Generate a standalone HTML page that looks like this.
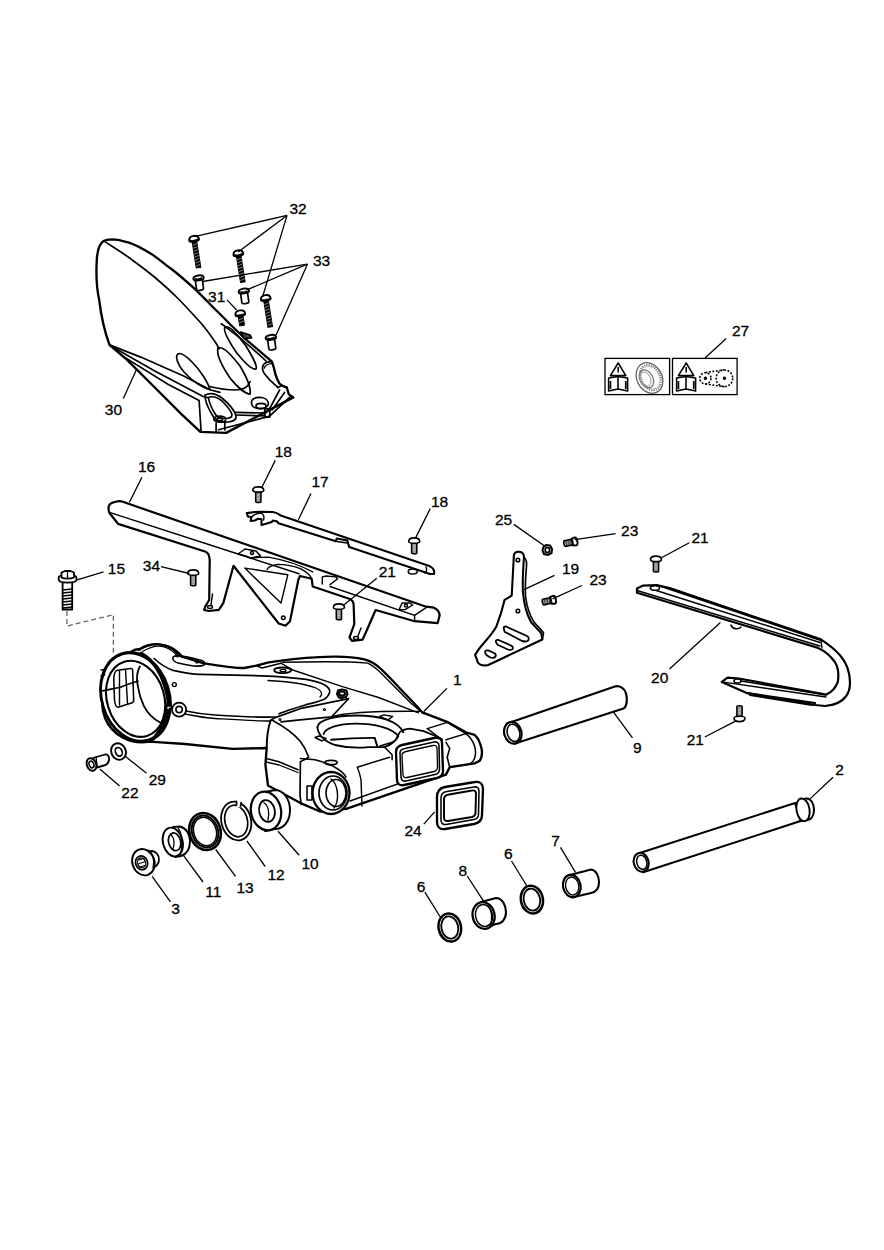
<!DOCTYPE html>
<html><head><meta charset="utf-8"><style>
html,body{margin:0;padding:0;background:#fff;width:884px;height:1250px;overflow:hidden}
svg{display:block}
</style></head><body>
<svg width="884" height="1250" viewBox="0 0 884 1250">
<rect width="884" height="1250" fill="#fff"/>
<!-- fender 30 -->
<g fill="#fff" stroke="#000" stroke-width="2.34" stroke-linejoin="round" stroke-linecap="round">
<path d="M103.5,241 C99,244 97,252 96.7,262 C96,275 97,290 99.2,300 C101,315 104,330 109.5,344.9 L127.1,359.9 L154.3,387 L181.4,414.2 L200.4,431.8 L226.1,432.9 L293.3,397.4 L288.9,394.5 L286.8,387.5 C283,386.5 281,385 279.4,383.5 C277,379 276,376 275.3,374 C274.5,370 273.5,366 271.9,361.7 L245,338.6 C238,332 234,328 230.8,325 C224,318 219,313 213.8,308 C206,300 199,293 193.4,287.7 C186,281 178,274 171.4,269 C164,264 158,258 151,253.8 C143,249 136,245 128.9,242.7 C122,240.5 116,239.3 112,239.3 C108,239.5 105.5,240 103.5,241 Z"/>
</g>
<g fill="none" stroke="#000" stroke-width="1.69" stroke-linejoin="round" stroke-linecap="round">
<path d="M105.2,241.9 C113,247 121,252 128.9,257.5 C137,263.5 146,270 154.4,277 C162,283.5 170,290.5 176.5,297 C184,304.5 190,311 196.8,318.5 C203,325 209,333 213.8,340 C216,343 218,346 219,349"/>
<path d="M221.3,323.8 C226,327 232,332 238.2,336.5 C248,345 258,353 266,361"/>
<path d="M109.5,344.9 L140.7,357.1 L184.2,376.2 L210,389.7 L220,392.4"/>
<path d="M113.6,347.6 L154.3,370.7 L203.2,396.5 L208.6,397.9"/>
<path d="M124.4,357.1 L167.9,384.3 L199.1,400.6 L201.1,431.8"/>
<path d="M178,354 C175,356 177,364 184,372 C192,381 203,388 210,389.7 C208,382 200,370 192,362 C186,356 181,352 178,354 Z"/>
<path d="M218,348 C216,354 222,366 230,378 C238,388 246,394 250.1,394.2 C251,388 246,376 240,366 C232,356 224,346 218,348 Z"/>
<path d="M209.4,386.5 C220,389 228,390 234.8,390 C242,390 248,388 250.1,381.5"/>
<path d="M225,327 C223,330 228,340 236,352 C244,362 252,370 256,369 C258,366 252,356 246,346 C238,336 230,325 225,327 Z"/>
<path d="M205,395 C210,392.5 216,393.5 222,398 C229,404 235,411 236,416 C236.5,420 233,421.5 228,422 C222,422.5 216,421 213.5,417 C209,410 205,402 205,395 Z"/>
<path d="M208.5,397.5 C212,396 217,397 222,401 C227,406 231,411 232,414.5 C232,417.5 229,418.5 225.5,418.5 C221,418.5 217.5,417.5 215.5,414.5 C212,409 209,403 208.5,397.5 Z"/>
<path d="M236,412.4 L265.9,413"/>
<path d="M236,415 L264.7,415.8"/>
<path d="M218.6,429.8 L269.6,416.1 L289.6,397.4"/>
<path d="M216.1,423 L216.1,431.5 M224.8,422 L224.8,430"/>
<path d="M269.6,408.6 L279.6,390 M272.1,409.9 L284.6,392.4"/>
<path d="M264.7,409 L269.6,408.6 L270,417 L265,417.5 Z"/>
<path d="M251.5,403 C251,399 255,397.4 259.5,397.4 C264,397.4 268,399.5 268.4,403 C268.6,406.5 265,408.6 260,408.6 C255,408.6 251.8,406.5 251.5,403 Z"/>
<ellipse cx="261" cy="406" rx="5" ry="2.6"/>
<ellipse cx="219.8" cy="419.2" rx="6" ry="3"/>
<ellipse cx="219.8" cy="419.2" rx="2.8" ry="1.4"/>
<path d="M271.9,361.7 C268,361.5 266,362 264,364 C262,366.5 262.4,370 263.8,372.6 C265.5,375.5 268,378 270.5,380.7 C273,383 275.5,385.5 278,387.5"/>
<path d="M264.4,368 C265,365.5 268,363.8 272,363.6" stroke-width="1.43"/>
<path d="M278,387.5 L282,385.5 L286.8,387.5"/>
<path d="M240.5,332 L250,335 L251.5,338 L244,338.5 Z" fill="#444"/>
</g>
<!-- 27 labels -->
<g fill="#fff" stroke="#000" stroke-width="1.30">
<rect x="605" y="358.4" width="64.6" height="36.2"/>
<rect x="672.5" y="358.4" width="64.6" height="36.2"/>
</g>
<g fill="none" stroke="#000" stroke-width="1.56" stroke-linejoin="round">
<path d="M618.2,363 L610.4,375.6 L625.8,375.6 Z"/>
<path d="M618.2,367 L618.2,372.5"/>
<path d="M608.6,378 L608.6,391 L618,389 L627.6,391 L627.6,378 L618,376.5 Z M618,376.5 L618,389 M610.5,381 L610.5,389 M625.7,381 L625.7,389"/>
<ellipse cx="649.5" cy="378" rx="12.5" ry="16" transform="rotate(-28 649.5 378)" stroke="#666" stroke-width="1.30"/>
<ellipse cx="650.5" cy="377.5" rx="9.5" ry="13" transform="rotate(-28 650.5 377.5)" stroke="#888" stroke-width="2.86" stroke-dasharray="1.2 1"/>
<ellipse cx="646.5" cy="378.8" rx="6.5" ry="9.5" transform="rotate(-28 646.5 378.8)" stroke="#777" stroke-width="1.30"/>
<ellipse cx="645.5" cy="379" rx="5" ry="7.5" transform="rotate(-28 645.5 379)" stroke="#999" stroke-width="1.04"/>
<path d="M686.2,363 L678.4,375.6 L693.8,375.6 Z"/>
<path d="M686.2,367 L686.2,372.5"/>
<path d="M676.6,378 L676.6,391 L686,389 L695.6,391 L695.6,378 L686,376.5 Z M686,376.5 L686,389 M678.5,381 L678.5,389 M693.7,381 L693.7,389"/>
<path d="M705.4,372.5 L724.4,369.8 M705.4,384 L724.4,386.8" stroke-dasharray="2 1.5"/>
<circle cx="705.4" cy="378.3" r="5.6" stroke-dasharray="2 1.5"/>
<circle cx="724.4" cy="378.3" r="8.3" stroke-dasharray="2 1.5"/>
<circle cx="705.4" cy="378.3" r="1" fill="#000"/>
<circle cx="724.4" cy="378.3" r="1" fill="#000"/>
</g>
<!-- guard 17 -->
<g fill="#fff" stroke="#000" stroke-width="2.08" stroke-linejoin="round" stroke-linecap="round">
<path d="M246.8,513.1 L254.7,512 L261.5,511.7 L272.8,512 C276,512.5 278,513.5 280.7,515.4 L430,566.3 C433,568 434.8,571 434,574 L430,574 L349.2,547.1 L347.3,540.4 L336.7,538.5 L335.8,541.3 L278.5,523.3 L277.3,521.6 L272.8,520.5 L271.7,522.1 L266,523.8 L261.5,525 L261.5,519.3 L258.1,518.8 L254.7,520.5 L250.7,521 L251.3,517.1 L247.9,516.5 Z"/>
<path d="M251.5,517 C254,514.5 258,513 261.5,513 C263.5,514.5 264.5,517 263.5,520" fill="none" stroke-width="1.43"/>
</g>
<g fill="none" stroke="#000" stroke-width="1.43" stroke-linecap="round">
<path d="M337,541.5 L347,543"/>
<ellipse cx="412.7" cy="571.5" rx="4.5" ry="2.5"/>
<path d="M426,567 C427,570 427,572 425,573"/>
</g>
<!-- guard 16 -->
<g fill="#fff" stroke="#000" stroke-width="2.21" stroke-linejoin="round" stroke-linecap="round">
<path d="M108.5,508 C108.5,505 110,503.5 113,502.5 L117.6,501.3 C119.5,501 121.5,501.2 122.8,501.8 L426.2,606.7 L433.8,607.7 C437,609 439.5,612 439.6,615.4 L437.7,623.1 L414.6,621.2 L375.6,610 L367.9,627.8 L362.6,639.6 L351.9,640.8 L349.5,637.3 L354.3,624.2 L353.6,604 C353.3,601.5 352.5,600.5 350.7,599.3 L312.7,586.5 L311.7,578.8 L300,576 L298.4,579.5 L290,621.2 L285.5,625.7 L278.7,623.5 L233.5,565.8 L223.3,603.1 L218.8,609.9 L208.6,611 L204.1,609.9 L205.2,606.5 L209.2,600 L209.7,560 C209.5,555 208.5,552.5 205,551.5 L118.1,523.9 L117,522.5 L109.5,513 C108.7,511.5 108.5,510 108.5,508 Z"/>
</g>
<g fill="none" stroke="#000" stroke-width="1.43" stroke-linejoin="round" stroke-linecap="round">
<path d="M110.2,512.6 L235.7,553.3 L299.1,573.7"/>
<path d="M330,586.5 L414.6,615.4 L426.2,607.7"/>
<path d="M414.6,615.4 L414.6,621.2"/>
<path d="M244.8,568.1 L287.8,574.8 L281,603.1 Z"/>
<circle cx="283.3" cy="617.8" r="1.8"/>
<path d="M238,554 L245,549 L256,551 L260.6,556 L250,558 L246,556 Z"/>
<circle cx="252" cy="553" r="1.5"/>
<path d="M267.1,569.6 C268,567 270,565.9 277.4,564.4 C285,564.5 295,566.5 300.9,568.8 C305,571 309,574 311.2,577.6"/>
<path d="M250.9,558.5 C253,557.5 256.8,557.1 268.5,557.1 C285,560 300,565 312.6,571.8"/>
<path d="M322.3,584 L322.3,576.9 L326.2,576 L335.8,576.9 L337.7,578.8 L330,584.6"/>
<path d="M399.2,609.6 L402,603 L410,603 L412.7,605 L405,609.6 Z"/>
<circle cx="406" cy="605.5" r="1.5"/>
<path d="M211,605 L212.5,594 M358,636 L361,628"/>
<ellipse cx="210" cy="607" rx="2.5" ry="1.5"/>
<ellipse cx="356" cy="638" rx="2.5" ry="1.5"/>
</g>
<!-- swingarm 1 -->
<g fill="#fff" stroke="#000" stroke-width="2.34" stroke-linejoin="round" stroke-linecap="round">
<path d="M122,662 C128,652 135,649 139.9,649 C146,645 152,644 158.9,644.3 C165,645 170,647 173.1,649 L180.3,656.1 L204,663.3 C220,666 235,668 244.4,668 L256.3,665.6 C265,663 272,661.5 281,660.6 C300,658 318,657 333.1,656.7 C345,656.5 356,657.5 364.3,659.3 C370,661 374,663 377.3,665.8 C385,672 393,681 400.7,689.2 C408,697 415,704 422.3,712.4 L448.4,722.4 L465.9,732.3 L474.6,734.8 C477,737 479,740 479.6,742.3 C481,746 482,749 482,752.2 C482,756 481,759 479.6,760.9 L474.6,763.4 L449.7,767.2 L446,774.6 L346.1,808.9 L320,811.5 L301.8,803.7 L268,785.5 L265.4,764.7 L266.7,748 L232.5,748.8 L185,744 L149.4,741.6 C130,745 112,735 105,718 C98,700 105,675 122,662 Z"/>
</g>
<!-- pivot ring -->
<g fill="#fff" stroke="#000" stroke-width="2.47">
<ellipse cx="135.5" cy="697" rx="34" ry="45.5" transform="rotate(-17 135.5 697)"/>
</g>
<g fill="none" stroke="#000" stroke-linejoin="round" stroke-linecap="round">
<ellipse cx="135.3" cy="697" rx="32.8" ry="44.3" transform="rotate(-17 135.3 697)" stroke-width="1.30"/>
<ellipse cx="135.6" cy="698.8" rx="28.6" ry="38.8" transform="rotate(-17 135.6 698.8)" stroke-width="2.08"/>
<path d="M141,653.5 C155,660 165,680 168,700 C168,715 162,730 152,740" stroke-width="3.38" stroke-dasharray="0.8 0.6"/>
<path d="M139.8,666.5 C137,672 136.5,680 137.8,685.8 C139,694 141,700 143.9,706.2 C148,714 153,719 160.2,722.5" stroke-width="1.82"/>
<path d="M116.5,670.5 C114.5,672 113.8,675 113.8,680 L114.5,700 C115,705 116,707 118,707.2 L131.5,703 C133.5,702.5 133.7,701 133.7,700 L132.6,670 C132.5,668.5 131,668.3 130,668.5 Z" stroke-width="1.56"/>
<path d="M119.5,671 L119.5,705 M125.5,669.5 L127.5,703.5" stroke-width="1.43"/>
<path d="M100.8,691 C108,690 115,688 120,687.5 C127,684 132,683 138,681" stroke-width="1.69"/>
<path d="M101,670 L104.5,669.5 L104.5,675 L101,676" stroke-width="1.43"/>
<path d="M139,650.5 C145,646.5 150,644.5 156.1,644.1 C164,644 170,646 174.4,649.2 C177,651 179.5,653 181.5,655.3" stroke-width="1.43"/>
<path d="M142.5,651.5 C148,648.5 152,646.5 157,646.2 C164,646 169,648.5 173,651.5 C175,653 176.5,655 177.5,657" stroke-width="1.30"/>
<path d="M167.3,706.2 L171.4,706 L171.4,709.2 L167.3,709.4" stroke-width="1.30" fill="#fff"/>
<path d="M154.1,658.5 C160,664 166,668 173.1,670.4 C185,673 195,674.5 200.5,674.3 C230,675 250,675.5 261.6,675.8 C280,676.5 290,677 306.2,679.4 C315,681 321,683 324.3,684.8 C328,687 330,690 329.7,692.1 C329,695 327,697.5 324.3,699.3 C318,702 312,703.5 306.2,704.7 C295,708 285,711 279,713.8" stroke-width="1.69"/>
<path d="M173,657 C175,655 180,655 200,660 C204,661 206,663 204,665 C200,667 190,666 178,663 C174,662 172,659 173,657 Z" stroke-width="1.56"/>
<circle cx="197" cy="661.5" r="1.5" stroke-width="1.30"/>
<circle cx="174.3" cy="684.6" r="2" stroke-width="1.43"/>
<circle cx="179.1" cy="709.6" r="7" stroke-width="1.69" fill="#fff"/>
<circle cx="179.1" cy="709.6" r="3.2" stroke-width="1.56"/>
<path d="M186,711 C195,713 205,714.5 215,715 C240,716.5 260,717.5 275,717" stroke-width="1.56"/>
<path d="M185,714 C195,716 205,718 215,718.5 C240,720 255,721 270,721" stroke-width="1.30"/>
<path d="M169.6,708.4 L172,708.4" stroke-width="1.56"/>
<!-- arm inner opening -->
<path d="M268,680.5 C290,681.5 305,684 316,688 C322,691 323,694 320,697" stroke-width="1.30"/>
<path d="M282.7,662.3 C320,661.5 350,661.5 367.7,663.1 C372,665 376,668 382,674 L411,703.3 L423.8,713.8" stroke-width="1.43"/>
<path d="M280.9,663.1 L293.5,670.3 L342.4,686.6 L378.6,697.5 L418.4,712.9" stroke-width="1.43"/>
<path d="M256.3,665.6 L262,668 L281,663.2" stroke-width="1.43"/>
<ellipse cx="282.6" cy="670.3" rx="8.5" ry="2.8" stroke-width="1.82"/>
<ellipse cx="283" cy="670.5" rx="3" ry="1.2" stroke-width="1.30"/>
<!-- plate -->
<path d="M270.6,720.5 L274.5,717.9 L300,708.7 L348.5,698.7 L331.7,716.8 L300,719.9 L281,721.8" stroke-width="1.69"/>
<path d="M337,694 L338,690.5 L342,689.5 L346.5,690.5 L347.5,694 L346,697 L339,697.5 Z" stroke-width="2.08" fill="#fff"/><ellipse cx="342" cy="693.5" rx="3" ry="2" stroke-width="2.08"/>
<ellipse cx="341.5" cy="698" rx="1.5" ry="0.8" stroke-width="1.30"/>
<circle cx="280" cy="719.5" r="1" stroke-width="1.17"/>
<circle cx="324.5" cy="709.5" r="1" stroke-width="1.17"/>
<!-- box top surface -->
<path d="M331.7,716.8 C345,713 380,711 421.5,711.4" stroke-width="1.43"/>
<path d="M379.6,716.5 L384,714.9 L392.7,716.5 L388,719.9 Z" stroke-width="1.43"/>
<path d="M427.3,728.6 L447.2,722.4 L465.9,733.6" stroke-width="1.43"/>
<path d="M427.3,728.6 L442.2,739.8 M446,739.8 L465.9,733.6" stroke-width="1.43"/>
<path d="M317.4,727.3 C318,720 335,715.5 356,715.5 C380,715.5 398,721 403.3,732.3" stroke-width="1.82"/>
<path d="M317.4,727.3 C318,735 325,742 335,745 C345,747.5 360,748 368.4,747.2 C376,747 382,747 384.6,747.2" stroke-width="1.82"/>
<path d="M323.6,734 C325,728 338,723.6 356,723.6 C375,723.6 392,728 398.3,736 C396,741 390,745 384.6,747.2" stroke-width="1.82"/>
<path d="M331.1,739.8 C345,738.5 360,737.8 374.7,737.9 L377.2,746" stroke-width="1.95"/>
<path d="M384.6,747.2 L392.1,754.7 L392.1,759.7" stroke-width="1.56"/>
<path d="M397.1,737.3 L399.6,732.3 C402,730 406,729 410,728.6 L423.6,731.1 L438.5,737.3 L442.2,739.8" stroke-width="1.69"/>
<path d="M380,746 L392.4,742.3 C395,741 396.5,739 397.1,737.3" stroke-width="1.56"/>
<path d="M315,737.5 L319,736 L326.1,738.5 L322,741 Z" stroke-width="1.43"/>
<!-- box front -->
<path d="M270.6,720.5 C268,728 266.7,740 266.7,748" stroke-width="1.95"/>
<path d="M272,720 C283,726 294,734 300,741 C304,746 306.2,750 308.7,757.2 C307,759 303,760 300.4,761.8 L300,795 L301.2,804.5" stroke-width="1.69"/>
<path d="M266.3,758.6 L279,761.8 L298,769.7" stroke-width="1.56"/>
<path d="M266.3,762 L279,765 L298,772.5" stroke-width="1.30"/>
<path d="M300.4,758.5 L314.9,759.7 C322,762 330,764 334.8,767.2 C340,770 344,773 346,777.1" stroke-width="1.56"/>
<ellipse cx="331.1" cy="762.5" rx="6" ry="2.2" stroke-width="1.82"/>
<path d="M357.2,767.2 L389.6,757.2 M357.2,767.2 C359,771 360,775 361,779.6 L362,806" stroke-width="1.43"/>
<path d="M350,801 L437.2,769.9" stroke-width="1.43"/>
<path d="M446,742.3 L449.7,748.5 L447.2,757.2 L449.7,767.2 L446,774.6" stroke-width="1.56"/>
<path d="M465.9,733.6 C472,738 476,746 475.5,754 C475,759 473,762 470,764" stroke-width="1.56"/>
<path d="M449.7,767.2 L474.6,763.4" stroke-width="1.43"/>
<!-- rectangular opening -->
<path d="M396,752 C396,748 398,746 402,745 L434,738 C439,737 442,739 442,743 L443,771 C443,775 441,777 437,778 L404,785 C400,786 397,784 397,780 Z" stroke-width="2.34" fill="#fff"/>
<path d="M400,753 C400,750 402,749 405,748.5 L434,742 C437,741.5 439,743 439,746 L439.5,769 C439.5,772 438,774 435,774.5 L406,781 C403,781.5 401,780 401,777 Z" stroke-width="1.56"/>
<path d="M402,755 C402,753 404,752 406,751.5 L433,745.5 C435,745 437,746 437,748 L437.5,767 C437.5,769 436,771 434,771.5 L407,777.5 C405,778 403,777 403,775 Z" stroke-width="1.30"/>
<!-- front bushing -->
<path d="M307,786 L312,786 L312,800 L307,800 Z" stroke-width="1.56" fill="#fff"/>
<ellipse cx="331" cy="793" rx="18.5" ry="21" stroke-width="2.34" fill="#fff"/>
<ellipse cx="333" cy="793" rx="14" ry="17" stroke-width="1.69"/>
<ellipse cx="336" cy="793" rx="10" ry="13.5" stroke-width="1.56"/>
<path d="M331,779 C338,784 340,800 334,808" stroke-width="1.43"/>
</g>
<!-- bolt 15 -->
<g fill="#fff" stroke="#000" stroke-linejoin="round" stroke-linecap="round">
<path d="M62.6,582 L72.2,582 L72.2,609.5 L62.6,609.5 Z" stroke-width="1.82"/>
<path d="M62.6,590 L72.2,589 M62.6,593 L72.2,592 M62.6,596 L72.2,595 M62.6,599 L72.2,598 M62.6,602 L72.2,601 M62.6,605 L72.2,604 M62.6,608 L72.2,607" stroke-width="1.43" fill="none"/>
<path d="M58.7,577.5 C58.7,575.5 62,574.8 67.5,574.8 C73,574.8 76.5,575.5 76.5,577.5 L76.5,579.5 C76.5,581.5 73,582.6 67.5,582.6 C62,582.6 58.7,581.5 58.7,579.5 Z" stroke-width="1.82"/>
<path d="M61.5,577.5 L61.5,572.5 L65,571 L70.5,571 L74,572.5 L74,577.5 C71,579 64,579 61.5,577.5 Z" stroke-width="1.82"/>
<path d="M67.5,571.5 L67.5,578.5" stroke-width="1.30" fill="none"/>
</g>
<path d="M66.9,611 L66.9,626 L113.4,614.7 L113.4,654.6" fill="none" stroke="#666" stroke-width="1.30" stroke-dasharray="5 3"/>
<!-- 29 washer, 22 bolt -->
<g fill="#fff" stroke="#000" stroke-linejoin="round" stroke-linecap="round">
<ellipse cx="118.5" cy="751.5" rx="7.2" ry="8.5" transform="rotate(-25 118.5 751.5)" stroke-width="1.95"/>
<ellipse cx="118.8" cy="751.8" rx="3.3" ry="4.5" transform="rotate(-25 118.8 751.8)" stroke-width="1.69"/>
<path d="M93,758 L105,754.5 C108,754 109.5,757 109,760 C108.5,763 107,765 104,765.5 L95,768" stroke-width="1.82"/>
<ellipse cx="91.5" cy="764.5" rx="4.6" ry="6.5" transform="rotate(-20 91.5 764.5)" stroke-width="1.95"/>
<ellipse cx="91.5" cy="764.5" rx="2.3" ry="3.4" transform="rotate(-20 91.5 764.5)" stroke-width="1.56"/>
<path d="M96,757 L97,766" stroke-width="1.43" fill="none"/>
</g>
<!-- 3 bush -->
<g fill="#fff" stroke="#000" stroke-linejoin="round" stroke-linecap="round">
<path d="M146,852 L152,851 C156,851.5 159,855 159,859.5 C159,864 156,867.5 152,867.5 L146,868" stroke-width="1.82"/>
<ellipse cx="143.4" cy="862.2" rx="11" ry="13.4" transform="rotate(-20 143.4 862.2)" stroke-width="1.95"/>
<path d="M148,850 C153,853 155,860 153,868" fill="none" stroke-width="1.30"/>
<ellipse cx="141.6" cy="862.8" rx="6" ry="7" transform="rotate(-20 141.6 862.8)" stroke-width="1.69"/>
<ellipse cx="141.6" cy="862.8" rx="4" ry="5" transform="rotate(-20 141.6 862.8)" stroke-width="1.30"/>
<path d="M138.5,860 L144,858.5 M139,863.5 L144.5,862 M139.5,867 L145,865.5" fill="none" stroke-width="1.17"/>
</g>
<!-- 11 ring -->
<g fill="#fff" stroke="#000" stroke-linejoin="round" stroke-linecap="round">
<path d="M173,827 L180,826.5 C186,828 190,834 190,841 C190,848 187,854 181,856 L175,857" stroke-width="1.95"/>
<ellipse cx="172.8" cy="842" rx="9.8" ry="14.6" transform="rotate(-14 172.8 842)" stroke-width="1.95"/>
<ellipse cx="174.6" cy="841.8" rx="6" ry="9" transform="rotate(-14 174.6 841.8)" stroke-width="1.69"/>
<path d="M171,835 C174,837 175,844 173,849" fill="none" stroke-width="1.30"/>
<path d="M178,828 C182,832 183,846 180,855" fill="none" stroke-width="1.17"/>
</g>
<!-- 13 seal ring -->
<g fill="none" stroke="#000" stroke-linejoin="round">
<ellipse cx="205" cy="831.5" rx="15.5" ry="18.8" transform="rotate(-18 205 831.5)" stroke-width="2.60" fill="#fff"/>
<ellipse cx="205" cy="831.5" rx="13" ry="16.3" transform="rotate(-18 205 831.5)" stroke-width="1.95"/>
<ellipse cx="205" cy="831.5" rx="11.3" ry="14.5" transform="rotate(-18 205 831.5)" stroke-width="1.56"/>
</g>
<!-- 12 circlip -->
<g fill="none" stroke="#000" stroke-linejoin="round" stroke-linecap="round">
<ellipse cx="236.2" cy="821" rx="14.8" ry="19.6" transform="rotate(-14 236.2 821)" stroke-width="1.82"/>
<ellipse cx="236.2" cy="821" rx="11.2" ry="16" transform="rotate(-14 236.2 821)" stroke-width="1.69"/>
<path d="M236.3,799.5 L242,800.5 L241,807.5 L236.3,807 Z" fill="#fff" stroke="none"/>
<path d="M236.5,801.3 L236.6,805 M241.2,802.5 L240.5,806.5" stroke-width="1.69"/>
</g>
<!-- 10 thick washer -->
<g fill="#fff" stroke="#000" stroke-linejoin="round" stroke-linecap="round">
<path d="M265,792 L275,790 C284,790 290,800 290,810 C290,821 284,829 275,829 L265,831" stroke-width="1.95"/>
<ellipse cx="266" cy="811" rx="15" ry="19.5" transform="rotate(-12 266 811)" stroke-width="2.21"/>
<ellipse cx="267" cy="811" rx="7.8" ry="11" transform="rotate(-12 267 811)" stroke-width="1.82"/>
<path d="M264,803 C268,805 270,812 268,820" fill="none" stroke-width="1.30"/>
</g>
<!-- 24 gasket -->
<g fill="none" stroke="#000" stroke-linejoin="round">
<path d="M437,797 C437,791 440,788 445,787 L475,782 C480,781 483,784 483,789 L482,815 C482,820 479,823 474,824 L445,829 C440,830 437,827 437,822 Z" stroke-width="2.34" fill="#fff"/>
<path d="M441,798 C441,794 443,792 447,791.5 L474,787 C477,786.5 479,788 479,791 L478.5,814 C478.5,817 477,819 474,819.5 L446,824.5 C443,825 441,823 441,820 Z" stroke-width="1.56"/>
<path d="M444,799 C444,796 446,795 449,794.5 L472,790.5 C474.5,790 476,791 476,793.5 L475.5,812.5 C475.5,815 474,816.5 472,817 L448,821 C445.5,821.5 444,820 444,817.5 Z" stroke-width="1.95"/>
</g>
<!-- 9 tube -->
<g fill="#fff" stroke="#000" stroke-linejoin="round" stroke-linecap="round">
<path d="M511.5,722 L615.6,686.3 C620,685.5 624.5,688.5 625.9,693 C627,697 627,702 626,705 C625.5,707 624.5,708 623.5,708.5 L514.9,743.5 Z" stroke-width="2.21"/>
<ellipse cx="512.8" cy="732.8" rx="8.6" ry="11" transform="rotate(-15 512.8 732.8)" stroke-width="2.21"/>
<ellipse cx="513.5" cy="732.8" rx="6.2" ry="8.8" transform="rotate(-15 513.5 732.8)" stroke-width="1.56"/>
</g>
<!-- 2 axle -->
<g fill="#fff" stroke="#000" stroke-linejoin="round" stroke-linecap="round">
<path d="M639,853.2 L795.1,803 L800.6,821.1 L643.1,872.2 Z" stroke-width="2.08"/>
<ellipse cx="641.2" cy="862.3" rx="7.4" ry="9.6" transform="rotate(-15 641.2 862.3)" stroke-width="2.08"/>
<ellipse cx="641.8" cy="862.3" rx="5" ry="7.2" transform="rotate(-15 641.8 862.3)" stroke-width="1.56"/>
<path d="M800,800.5 L806,798.5 C811,798 814,804 814,810 C814,816 811,820 806,820 L801,821" stroke-width="2.08"/>
<ellipse cx="803" cy="809.8" rx="6.5" ry="11.5" transform="rotate(-10 803 809.8)" stroke-width="1.95"/>
</g>
<!-- 6 rings -->
<g fill="#fff" stroke="#000" stroke-linejoin="round">
<ellipse cx="449.8" cy="927.5" rx="11.2" ry="14.2" transform="rotate(-12 449.8 927.5)" stroke-width="2.47"/>
<ellipse cx="449.8" cy="927.5" rx="8.4" ry="11.3" transform="rotate(-12 449.8 927.5)" stroke-width="1.82"/>
<ellipse cx="531.9" cy="899.6" rx="11" ry="14" transform="rotate(-12 531.9 899.6)" stroke-width="2.47"/>
<ellipse cx="531.9" cy="899.6" rx="8.2" ry="11.1" transform="rotate(-12 531.9 899.6)" stroke-width="1.82"/>
</g>
<!-- 8 bush -->
<g fill="#fff" stroke="#000" stroke-linejoin="round" stroke-linecap="round">
<path d="M481,902 L496,898 C502,898 506,905 506,912 C506,919 502,924 496,924 L485,928" stroke-width="2.08"/>
<ellipse cx="483.6" cy="915.5" rx="11" ry="13.5" transform="rotate(-12 483.6 915.5)" stroke-width="2.21"/>
<ellipse cx="484" cy="915.5" rx="8.5" ry="11" transform="rotate(-12 484 915.5)" stroke-width="1.43"/>
<path d="M488,906 C492,910 493,920 490,926" fill="none" stroke-width="1.43"/>
</g>
<!-- 7 bush -->
<g fill="#fff" stroke="#000" stroke-linejoin="round" stroke-linecap="round">
<path d="M570,875 L591,869.5 C596,870 599,876 599,882 C599,888 596,892 591,893 L572,897.5" stroke-width="2.08"/>
<ellipse cx="571.8" cy="886" rx="8.8" ry="11.3" transform="rotate(-12 571.8 886)" stroke-width="2.21"/>
<ellipse cx="572.2" cy="886" rx="6.6" ry="9" transform="rotate(-12 572.2 886)" stroke-width="1.43"/>
</g>
<!-- 19 bracket -->
<g fill="#fff" stroke="#000" stroke-linejoin="round" stroke-linecap="round">
<path d="M513.8,557 C513.5,553 516,551.5 519,551.7 C522,552 524,554 524,557 C523,570 522.5,582 522.9,591.6 C524,605 527,615 531.1,622.2 C535,627 540,631 541.3,633.4 L542.3,639.5 L488.3,665 C484,666 480,665 478.1,662.9 L475.1,654.8 C478,650 481,646 484.3,642.5 C490,636 494,631 496.5,626.2 C500,617 503,607 504.6,599.8 L511.7,595.7 Z" stroke-width="2.08"/>
<path d="M524,557 C526,559 527,562 526.5,566 C525.5,578 525,588 525.5,596 C527,608 530,616 534,622 C538,627 542,630 543.5,633 L542.3,639.5" fill="none" stroke-width="1.69"/>
<circle cx="517.9" cy="560" r="1.8" stroke-width="1.56"/>
<circle cx="517.9" cy="611" r="1.8" stroke-width="1.56"/>
<path d="M504,629 C503,627.5 504,626.5 506,626.5 L527,636 C529,637 529.5,639.5 527.5,641 C526,642 524,641.5 522,641 L505,632 C504,631 504,630 504,629 Z" stroke-width="1.82"/>
<path d="M496,642 C495.5,640.5 496.5,639.5 498.5,640 L511,645.5 C513,646.5 513.5,648.5 512,649.5 C511,650 509.5,650 508,649.5 L498,645 C497,644 496,643 496,642 Z" stroke-width="1.82"/>
<path d="M485,652 C485,650.5 486.5,650 488.5,650.5 L494,653 C496,654 496.5,656 495,657 C494,658 492,658 490.5,657.5 L487,655.5 C486,654.5 485,653 485,652 Z" stroke-width="1.82"/>
</g>
<!-- 25 nut -->
<g fill="#fff" stroke="#000" stroke-width="1.95">
<path d="M543.5,547 L546,545 L550,545.5 L552,549 L551.5,553 L548,555 L544,554 L542.5,550.5 Z" stroke-width="2.08"/>
<ellipse cx="547.4" cy="550" rx="2.2" ry="2.6" stroke-width="1.82"/>
</g>
<!-- 23 bolts -->
<defs>
<g id="b23">
<path d="M-9,-2.8 L-1,-2.8 L-1,2.8 L-9,2.8 C-10,2.8 -10,-2.8 -9,-2.8 Z" fill="#999" stroke="#000" stroke-width="1.69"/>
<path d="M-7,-2.3 L-7.5,2.3 M-4.5,-2.3 L-5,2.3 M-2.5,-2.3 L-3,2.3" stroke="#444" stroke-width="1.04"/>
<path d="M-1,-3.5 L2,-4 C4.5,-4 4.5,4 2,4 L-1,3.5 Z" fill="#fff" stroke="#000" stroke-width="1.95"/>
</g>
</defs>
<use href="#b23" transform="translate(573.5,541.8) rotate(-12)"/>
<use href="#b23" transform="translate(552,600.2) rotate(-12)"/>
<!-- 20 chain slider -->
<g fill="#fff" stroke="#000" stroke-linejoin="round" stroke-linecap="round">
<path d="M637,588.5 L642.6,585.7 L656.8,585.1 L669.5,588 L820.8,639.4 C832,647 843,655 847.5,668 C851,678 851,690 846.2,696 C842,702 836,705 825,706 L815.1,705 L747.3,693.2 L721.8,681.9 L727.5,677.6 L738.8,678.5 L826.4,694.6 C832,692 836,687 837.8,681.9 C839,674 838,667 834.9,662 C830,655 825,651 818,647.9 L637,592.8 Z" stroke-width="2.21"/>
<path d="M656.8,585.1 L821,640.5 L822,648 M669.5,588 L818,639" fill="none" stroke-width="1.43"/>
<path d="M637,590.5 L820,646 M650,588.5 L820,642.5" fill="none" stroke-width="1.43"/>
<ellipse cx="655" cy="588" rx="4.5" ry="2.3" stroke-width="1.56"/>
<path d="M721.8,681.9 L826,697 M735,680 L826,695" fill="none" stroke-width="1.43"/>
<ellipse cx="737.5" cy="681" rx="3.5" ry="2" stroke-width="1.56"/>
<path d="M747,693 L815,703 M750,695 L812,705" fill="none" stroke-width="2.08"/>
<path d="M731,625 C732,629 738,630 741,627" fill="none" stroke-width="1.56"/>
</g>
<defs>
<g id="scrL">
<path d="M-2.3,3 L2.3,3 L2.3,29 L-2.3,29 Z" fill="#000" stroke="#000" stroke-width="1.04"/>
<path d="M-2.3,6 L2.3,5 M-2.3,9 L2.3,8 M-2.3,12 L2.3,11 M-2.3,15 L2.3,14 M-2.3,18 L2.3,17 M-2.3,21 L2.3,20 M-2.3,24 L2.3,23 M-2.3,27 L2.3,26" stroke="#999" stroke-width="0.78"/>
<path d="M-5,1 C-5,-2.5 -3,-3.2 0,-3.2 C3,-3.2 5,-2.5 5,1 C5,3.2 -5,3.2 -5,1 Z" fill="#fff" stroke="#000" stroke-width="1.82"/>
<path d="M-4.6,0.8 C-3,2 3,2 4.6,0.8" fill="none" stroke="#000" stroke-width="2.08"/>
</g>
<g id="scrS">
<path d="M-2.4,3 L2.4,3 L2.4,12 L-2.4,12 Z" fill="#000" stroke="#000" stroke-width="1.04"/>
<path d="M-2.4,6 L2.4,5 M-2.4,9 L2.4,8" stroke="#999" stroke-width="0.78"/>
<path d="M-5,1 C-5,-2.5 -3,-3.2 0,-3.2 C3,-3.2 5,-2.5 5,1 C5,3.2 -5,3.2 -5,1 Z" fill="#fff" stroke="#000" stroke-width="1.82"/>
<path d="M-4.6,0.8 C-3,2 3,2 4.6,0.8" fill="none" stroke="#000" stroke-width="2.08"/>
</g>
<g id="scrM">
<path d="M-2.6,2 L2.6,2 L2.6,12 C2.6,13 -2.6,13 -2.6,12 Z" fill="#999" stroke="#000" stroke-width="1.56"/>
<path d="M-1.5,6 L1.5,5.5 M-1.5,9 L1.5,8.5" stroke="#bbb" stroke-width="0.91"/>
<path d="M-5.5,0.5 C-5.5,-2.5 -3,-3 0,-3 C3,-3 5.5,-2.5 5.5,0.5 C5.5,3 -5.5,3 -5.5,0.5 Z" fill="#fff" stroke="#000" stroke-width="1.69"/>
</g>
<g id="pin33">
<path d="M-3.5,1 L3.5,1 L3.5,11 C3.5,13 -3.5,13 -3.5,11 Z" fill="#fff" stroke="#000" stroke-width="1.69"/>
<path d="M-5.2,0.5 C-5.2,-2 -3,-2.6 0,-2.6 C3,-2.6 5.2,-2 5.2,0.5 C5.2,2.8 -5.2,2.8 -5.2,0.5 Z" fill="#fff" stroke="#000" stroke-width="1.95"/>
<path d="M-3.5,0 C-2,1.5 2,1.5 3.5,0" fill="none" stroke="#000" stroke-width="1.56"/>
</g>
</defs>
<use href="#scrL" transform="translate(194,239) rotate(-9)"/>
<use href="#scrL" transform="translate(238.3,253.5) rotate(-9)"/>
<use href="#scrL" transform="translate(265.7,298.3) rotate(-9)"/>
<use href="#pin33" transform="translate(198.5,278) rotate(-8)"/>
<use href="#pin33" transform="translate(243.8,291.2) rotate(-8)"/>
<use href="#pin33" transform="translate(270.8,337.5) rotate(-8)"/>
<use href="#scrS" transform="translate(240.2,313.6) rotate(-9)"/>
<use href="#scrM" transform="translate(258.3,489.8)"/>
<use href="#scrM" transform="translate(414.2,540.9)"/>
<use href="#scrM" transform="translate(193.2,572.9)"/>
<use href="#scrM" transform="translate(338.9,606.9)"/>
<use href="#scrM" transform="translate(656,559.2)"/>
<use href="#scrM" transform="translate(739.5,718.6) rotate(180)"/>
<g stroke="#000" stroke-width="1.3" fill="none">
<line x1="287" y1="215.4" x2="194.4" y2="236.7"/>
<line x1="287" y1="215.4" x2="238.2" y2="252"/>
<line x1="287" y1="215.4" x2="262.6" y2="296.8"/>
<line x1="307.4" y1="264.2" x2="202.6" y2="281.5"/>
<line x1="307.4" y1="264.2" x2="247.4" y2="289.7"/>
<line x1="307.4" y1="264.2" x2="275.9" y2="335.5"/>
<line x1="227" y1="299.9" x2="236.6" y2="310"/>
<line x1="123.3" y1="398.6" x2="136.3" y2="370.1"/>
<line x1="704.5" y1="358.4" x2="726.2" y2="338.5"/>
<line x1="141.9" y1="477.3" x2="129.4" y2="502.2"/>
<line x1="275.3" y1="460.4" x2="261.8" y2="487.5"/>
<line x1="310.9" y1="493.6" x2="298.4" y2="519.7"/>
<line x1="430.3" y1="508.5" x2="415.4" y2="538.4"/>
<line x1="161" y1="566.7" x2="189.4" y2="573.5"/>
<line x1="103.5" y1="571.9" x2="77.3" y2="579.9"/>
<line x1="376.8" y1="578.2" x2="343.2" y2="605.6"/>
<line x1="513.8" y1="524.4" x2="544.3" y2="545.8"/>
<line x1="615.6" y1="533.6" x2="574.9" y2="539.7"/>
<line x1="554.5" y1="575.3" x2="524" y2="589.6"/>
<line x1="582" y1="585.5" x2="552.5" y2="598.8"/>
<line x1="689.3" y1="542.7" x2="661" y2="558"/>
<line x1="669.5" y1="669.1" x2="720.4" y2="622.5"/>
<line x1="446.9" y1="688.4" x2="423.8" y2="711.5"/>
<line x1="613.3" y1="711.9" x2="632.5" y2="737.9"/>
<line x1="704.8" y1="737" x2="736" y2="720.9"/>
<line x1="833.1" y1="777.2" x2="810" y2="798.9"/>
<line x1="125.2" y1="756.2" x2="146.5" y2="773.2"/>
<line x1="99.8" y1="768.9" x2="119.6" y2="785.9"/>
<line x1="434.6" y1="811.9" x2="423.8" y2="824.1"/>
<line x1="278" y1="831.2" x2="299.2" y2="855.2"/>
<line x1="246.9" y1="841" x2="265.2" y2="866.5"/>
<line x1="215.7" y1="849.5" x2="235.5" y2="876.4"/>
<line x1="183.2" y1="855.2" x2="203" y2="882"/>
<line x1="152.1" y1="876.4" x2="170.5" y2="901.9"/>
<line x1="424.9" y1="892.2" x2="440.3" y2="917"/>
<line x1="467.2" y1="876" x2="483.4" y2="900.9"/>
<line x1="511.5" y1="861" x2="526.9" y2="886"/>
<line x1="560.5" y1="847.4" x2="575.5" y2="872.3"/>
</g>
<g font-family="Liberation Sans, sans-serif" font-size="15.5" fill="#000" stroke="#000" stroke-width="0.3">
<text x="289.4" y="213.8">32</text>
<text x="313.0" y="265.8">33</text>
<text x="208.1" y="302.4">31</text>
<text x="104.8" y="414.8">30</text>
<text x="732.0" y="335.9">27</text>
<text x="137.9" y="472.3">16</text>
<text x="274.7" y="456.5">18</text>
<text x="311.5" y="486.9">17</text>
<text x="431.0" y="506.8">18</text>
<text x="142.8" y="570.7">34</text>
<text x="107.8" y="574.4">15</text>
<text x="378.7" y="576.5">21</text>
<text x="494.9" y="525.0">25</text>
<text x="621.1" y="536.2">23</text>
<text x="562.0" y="573.8">19</text>
<text x="589.5" y="585.0">23</text>
<text x="691.5" y="542.8">21</text>
<text x="651.1" y="682.8">20</text>
<text x="453.0" y="685.2">1</text>
<text x="633.0" y="753.2">9</text>
<text x="686.7" y="745.0">21</text>
<text x="835.3" y="775.3">2</text>
<text x="148.7" y="785.4">29</text>
<text x="121.3" y="798.1">22</text>
<text x="404.4" y="835.7">24</text>
<text x="301.4" y="868.8">10</text>
<text x="267.4" y="880.1">12</text>
<text x="236.4" y="892.9">13</text>
<text x="205.2" y="897.1">11</text>
<text x="171.3" y="914.1">3</text>
<text x="416.8" y="891.7">6</text>
<text x="458.4" y="875.5">8</text>
<text x="503.9" y="859.3">6</text>
<text x="551.2" y="845.6">7</text>
</g>
</svg>
</body></html>
